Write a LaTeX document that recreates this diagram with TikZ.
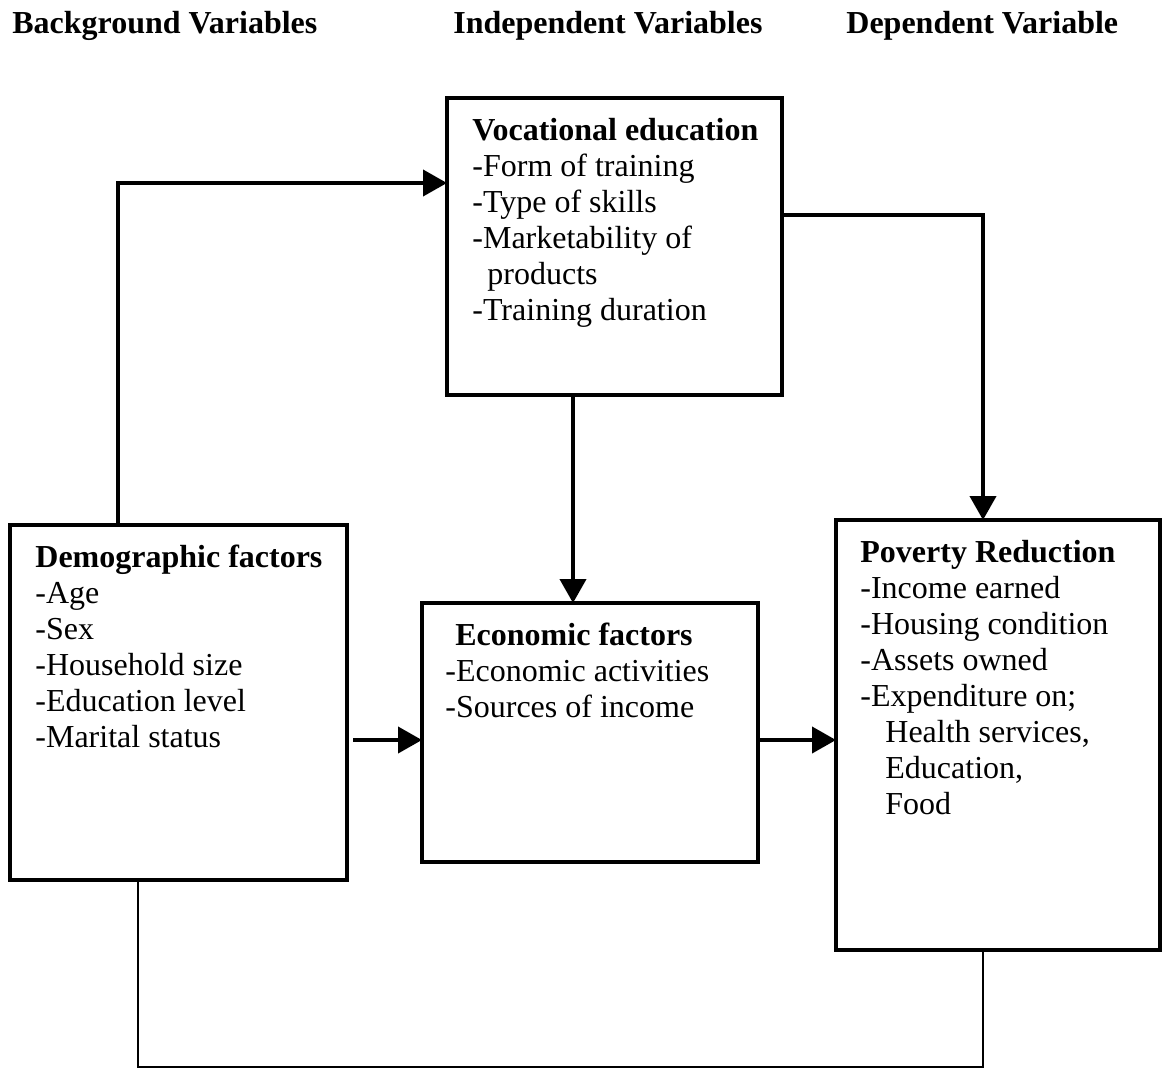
\documentclass[tikz,border=0pt]{standalone}
\usepackage{fontspec}
\setmainfont{Liberation Serif}
\usetikzlibrary{arrows.meta}
\begin{document}
\begin{tikzpicture}[x=0.5pt,y=-0.5pt,
  box/.style={draw, line width=2.2pt, rectangle, inner sep=0pt, outer sep=0pt},
  txt/.style={anchor=north west, align=left, inner sep=0pt, font=\fontsize{16pt}{18pt}\selectfont},
  hdr/.style={anchor=base west, inner sep=0pt, font=\fontsize{16pt}{18pt}\selectfont\bfseries},
  conn/.style={line width=2pt},
  arr/.style={conn, -{Triangle[length=12pt,width=13pt]}},
  thin/.style={line width=1.1pt}]
\useasboundingbox (0,0) rectangle (1162,1072);
\fill[white] (0,0) rectangle (1162,1072);

% headers
\node[hdr] (h1) at (12,33) {Background Variables};
\node[hdr] (h2) at (453,33) {Independent Variables};
\node[hdr] (h3) at (846,33) {Dependent Variable};

% boxes
\node[box, minimum width=167.5pt, minimum height=148.5pt] (voc) at (614.5,246.5) {};
\node[box, minimum width=168.5pt, minimum height=177.5pt] (demo) at (178.5,702.5) {};
\node[box, minimum width=168pt, minimum height=129.5pt] (econ) at (590,732.5) {};
\node[box, minimum width=162pt, minimum height=215pt] (pov) at (998,735) {};

% texts
\node[txt] (voct) at (472,118) {\textbf{Vocational education}\\-Form of training\\-Type of skills\\-Marketability of\\\hspace*{7.5pt}products\\-Training duration};
\node[txt] (demot) at (35,545) {\textbf{Demographic factors}\\-Age\\-Sex\\-Household size\\-Education level\\-Marital status};
\node[txt] (econt) at (445,623) {\hspace*{5pt}\textbf{Economic factors}\\-Economic activities\\-Sources of income};
\node[txt] (povt) at (860,540) {\textbf{Poverty Reduction}\\-Income earned\\-Housing condition\\-Assets owned\\-Expenditure on;\\\hspace*{12.5pt}Health services,\\\hspace*{12.5pt}Education,\\\hspace*{12.5pt}Food};

% connector coordinates
\coordinate (c1) at (118,183);
\coordinate (c2) at (983,215);
\coordinate (c3) at (573,0);
\coordinate (c4) at (0,740);
\coordinate (c6) at (138,1067);
\coordinate (c7) at (983,1067);

% connectors
\draw[arr] (demo.north -| c1) |- (voc.west |- c1);
\draw[arr] (voc.east |- c2) -| (pov.north -| c2);
\draw[arr] (voc.south -| c3) -- (econ.north -| c3);
\draw[arr] ([xshift=3pt]demo.east |- c4) -- (econ.west |- c4);
\draw[arr] ([xshift=1pt]econ.east |- c4) -- (pov.west |- c4);
\draw[thin] (demo.south -| c6) -- (c6) -- (c7) -- (pov.south -| c7);
\end{tikzpicture}
\end{document}
